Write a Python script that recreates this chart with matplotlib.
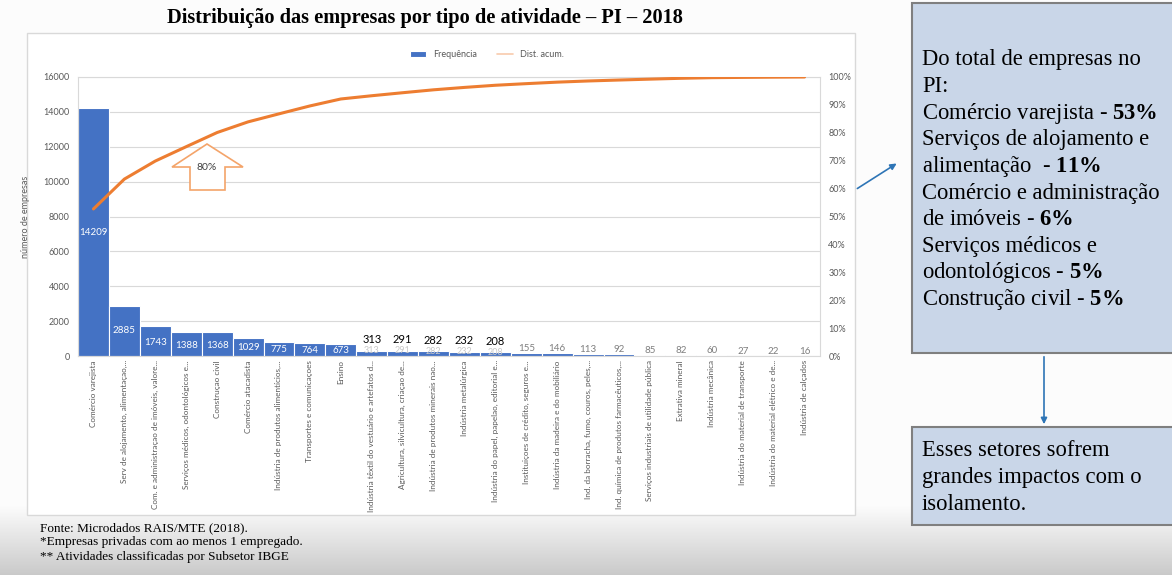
import numpy as np
import matplotlib.pyplot as plt
from matplotlib.patches import Rectangle, Polygon, FancyArrowPatch
from matplotlib.ticker import PercentFormatter, MultipleLocator

plt.rcParams['font.family'] = 'Lato'
plt.rcParams['mathtext.fontset'] = 'custom'
plt.rcParams['mathtext.rm'] = 'Liberation Serif'
plt.rcParams['mathtext.bf'] = 'Liberation Serif:bold'

W, H = 1172, 575

# ---------------------------------------------------------------------------
# data
# ---------------------------------------------------------------------------
categories = [
    'Comércio varejista',
    'Serv de alojamento, alimentaçao,...',
    'Com. e administraçao de imóveis, valore...',
    'Serviços médicos, odontológicos e...',
    'Construçao civil',
    'Comércio atacadista',
    'Indústria de produtos alimentícios,...',
    'Transportes e comunicaçoes',
    'Ensino',
    'Indústria têxtil do vestuário e artefatos d...',
    'Agricultura, silvicultura, criaçao de...',
    'Indústria de produtos minerais nao...',
    'Indústria metalúrgica',
    'Indústria do papel, papelao, editorial e...',
    'Instituiçoes de crédito, seguros e...',
    'Indústria da madeira e do mobiliário',
    'Ind. da borracha, fumo, couros, peles,...',
    'Ind. química de produtos farmacêuticos,...',
    'Serviços industriais de utilidade pública',
    'Extrativa mineral',
    'Indústria mecânica',
    'Indústria do material de transporte',
    'Indústria do material elétrico e de...',
    'Indústria de calçados',
]
freq = np.array([14209, 2885, 1743, 1388, 1368, 1029, 775, 764, 673, 313,
                 291, 282, 232, 208, 155, 146, 113, 92, 85, 82, 60, 27, 22, 16])
cum_share = np.cumsum(freq) / freq.sum()

title = 'Distribuição das empresas por tipo de atividade – PI – 2018'
box1_lines = [
    'Do total de empresas no',
    'PI:',
    r'Comércio varejista - $\mathbf{53\%}$',
    'Serviços de alojamento e',
    r'alimentação  - $\mathbf{11\%}$',
    'Comércio e administração',
    r'de imóveis - $\mathbf{6\%}$',
    'Serviços médicos e',
    r'odontológicos - $\mathbf{5\%}$',
    r'Construção civil - $\mathbf{5\%}$',
]
box2_lines = ['Esses setores sofrem', 'grandes impactos com o', 'isolamento.']
notes = ['Fonte: Microdados RAIS/MTE (2018).',
         '*Empresas privadas com ao menos 1 empregado.',
         '** Atividades classificadas por Subsetor IBGE']

BLUE = '#4472C4'
ORANGE = '#ED7D31'
GREY = '#595959'


def fx(x):
    return x / W


def fy(y):
    return 1 - y / H


fig = plt.figure(figsize=(W / 100, H / 100), dpi=100)

# slide background with grey band at the bottom
bg = fig.add_axes([0, 0, 1, 1], zorder=-10)
grad = np.ones((H, 1))
band = np.linspace(0, 1, H - 505)
grad[505:, 0] = 1 - 0.20 * band
bg.imshow(np.dstack([grad * 0.99] * 3), aspect='auto', extent=(0, 1, 0, 1))
bg.axis('off')

# white chart panel
fig.patches.append(Rectangle((fx(27), fy(515)), fx(855 - 27), (515 - 33) / H,
                             transform=fig.transFigure, facecolor='white',
                             edgecolor='#d9d9d9', lw=1, zorder=-5))

ax = fig.add_axes([fx(78), fy(356), fx(820 - 78), (356 - 77) / H])
x = np.arange(len(freq))
ax.bar(x, freq, width=1.0, color=BLUE, edgecolor='white', linewidth=0.8,
       label='Frequência', zorder=2)
ax.set_xlim(-0.5, len(freq) - 0.5)
ax.set_ylim(0, 16000)
ax.yaxis.set_major_locator(MultipleLocator(2000))
ax.grid(axis='y', color='#d9d9d9', lw=0.8, zorder=0)
ax.set_axisbelow(True)
for s in ax.spines.values():
    s.set_color('#d9d9d9')
    s.set_linewidth(0.8)
ax.tick_params(axis='y', length=0, labelsize=6.5, labelcolor=GREY, pad=6)
ax.set_xticks(x)
ax.set_xticklabels(categories, rotation=90, fontsize=5.9, color=GREY,
                   va='top', ha='center')
ax.tick_params(axis='x', length=0, pad=3)
ax.set_ylabel('número de empresas', fontsize=6.5, color=GREY, labelpad=10)

# data labels
for xi, v in zip(x, freq):
    if v >= 600:
        ax.text(xi, v / 2 if v > 2000 else v * 0.45, str(v), color='white',
                ha='center', va='center', fontsize=7, zorder=4)
    elif v >= 200:
        ax.text(xi, v, str(v), color='#c8c8c8', ha='center', va='center',
                fontsize=6.5, zorder=4)
        ax.annotate(str(v), (xi, v), xytext=(0, 4), textcoords='offset points',
                    ha='center', va='bottom', fontsize=8, color='black',
                    zorder=4)
    else:
        ax.annotate(str(v), (xi, v), xytext=(0, 0), textcoords='offset points',
                    ha='center', va='bottom', fontsize=7, color='#7f7f7f',
                    zorder=4)

ax2 = ax.twinx()
ax2.plot(x, cum_share, color=ORANGE, lw=2.2, label='Dist. acum.',
         solid_capstyle='round')
ax2.set_ylim(0, 1)
ax2.yaxis.set_major_locator(MultipleLocator(0.1))
ax2.yaxis.set_major_formatter(PercentFormatter(1.0, decimals=0))
ax2.tick_params(axis='y', length=0, labelsize=6.5, labelcolor=GREY, pad=6)
for s in ax2.spines.values():
    s.set_visible(False)

h1, l1 = ax.get_legend_handles_labels()
h2, l2 = ax2.get_legend_handles_labels()
leg = ax.legend(h1 + h2, l1 + l2, loc='center', bbox_to_anchor=(0.551, 1.079),
                ncol=2, frameon=False, fontsize=6.5, handlelength=1.8,
                columnspacing=2.2, handleheight=0.6)
for t in leg.get_texts():
    t.set_color(GREY)
leg.legend_handles[1].set_color('#f8cbad')
leg.legend_handles[1].set_linewidth(1.2)

# 80% arrow callout
pts = [(207, 144), (243, 167), (225, 167), (225, 190), (190, 190),
       (190, 167), (172, 167)]
fig.patches.append(Polygon([(fx(a), fy(b)) for a, b in pts], closed=True,
                           transform=fig.transFigure, facecolor='white',
                           edgecolor='#F4A46A', lw=1.2, zorder=5))
fig.text(fx(207), fy(168), '80%', fontsize=7.5, color='#404040',
         ha='center', va='center', zorder=6)

# title and notes
fig.text(fx(425), fy(18), title, family='Liberation Serif', weight='bold',
         fontsize=14.7, ha='center', va='center')
for i, n in enumerate(notes):
    fig.text(fx(40), fy(528 + 14.5 * i), n, family='Liberation Serif',
             fontsize=9.5, ha='left', va='center')

# right-hand boxes
BOXC = '#c9d6e8'
fig.patches.append(Rectangle((fx(912), fy(353)), fx(265), (353 - 3) / H,
                             transform=fig.transFigure, facecolor=BOXC,
                             edgecolor='#7f7f7f', lw=1.5))
fig.patches.append(Rectangle((fx(912), fy(525)), fx(265), (525 - 427) / H,
                             transform=fig.transFigure, facecolor=BOXC,
                             edgecolor='#7f7f7f', lw=1.5))
for i, line in enumerate(box1_lines):
    fig.text(fx(922), fy(60 + 26.6 * i), line, family='Liberation Serif',
             fontsize=16.3, ha='left', va='center')
for i, line in enumerate(box2_lines):
    fig.text(fx(922), fy(451 + 27 * i), line, family='Liberation Serif',
             fontsize=16.3, ha='left', va='center')

ARROW = '#2E75B6'
fig.add_artist(FancyArrowPatch(
    (fx(855), fy(190)), (fx(899), fy(162)), transform=fig.transFigure,
    arrowstyle='-|>', mutation_scale=9, color=ARROW, lw=1.2))
fig.add_artist(FancyArrowPatch(
    (fx(1044), fy(354)), (fx(1044), fy(427)), transform=fig.transFigure,
    arrowstyle='-|>', mutation_scale=9, color=ARROW, lw=1.2))

fig.savefig('out.png', dpi=100)
